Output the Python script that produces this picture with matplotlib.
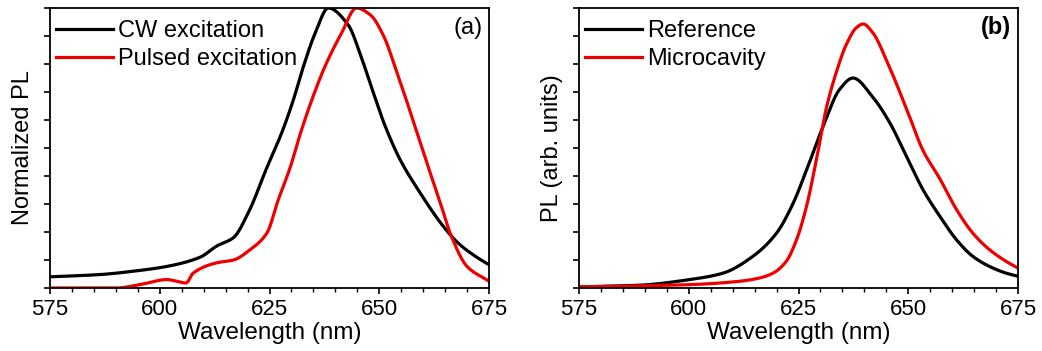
import numpy as np
import matplotlib
matplotlib.use("Agg")
import matplotlib.pyplot as plt
from matplotlib.ticker import MultipleLocator

plt.rcParams['font.family'] = ['Liberation Sans', 'DejaVu Sans']

# panel (a): normalized PL, CW vs pulsed excitation
wl_cw = [575, 586.4, 594, 601.6, 609.2, 613, 616.8, 620.2, 624.4, 627.8, 630.4, 632.7,
         635.4, 638.4, 642.9, 646, 648.6, 651.3, 654.7, 659.3, 664.6, 668, 672.2, 675]
pl_cw = [0.04, 0.048, 0.06, 0.077, 0.11, 0.15, 0.18, 0.27, 0.43, 0.555, 0.67, 0.79,
         0.91, 1.0, 0.94, 0.82, 0.70, 0.58, 0.46, 0.34, 0.22, 0.16, 0.11, 0.083]
wl_pulsed = [575, 590, 595.5, 601.6, 606, 607.6, 613, 616.8, 620.6, 624.4, 627, 629.7,
             632, 634.6, 637.6, 641.4, 644.8, 648, 651, 653.6, 656.2, 658.7, 661,
             663.8, 666.3, 670, 675]
pl_pulsed = [0.0, 0.0, 0.012, 0.03, 0.018, 0.053, 0.09, 0.10, 0.137, 0.196, 0.315, 0.43,
             0.55, 0.67, 0.79, 0.91, 1.0, 0.975, 0.90, 0.79, 0.67, 0.55, 0.44,
             0.31, 0.19, 0.077, 0.024]

# panel (b): reference vs microcavity
wl_ref = [575, 588.8, 600.2, 607.8, 614.6, 620, 623.7, 626.8, 630.6, 634.4, 637.4,
          642, 645.8, 649.6, 653.4, 657.2, 661, 664.7, 668.5, 672.3, 675]
pl_ref = [0.004, 0.01, 0.03, 0.053, 0.113, 0.196, 0.30, 0.42, 0.577, 0.71, 0.75,
          0.68, 0.59, 0.47, 0.35, 0.256, 0.172, 0.113, 0.077, 0.053, 0.042]
wl_mc = [575, 600.2, 611.6, 616.2, 619.2, 622.2, 624.5, 626.8, 629.1, 631.3, 633.6,
         635.9, 638.2, 639.7, 642, 645, 649.6, 653.4, 657.2, 661, 664.7, 668.5, 672.3, 675]
pl_mc = [0.004, 0.012, 0.024, 0.036, 0.053, 0.095, 0.17, 0.29, 0.46, 0.64, 0.77,
         0.87, 0.93, 0.943, 0.91, 0.815, 0.64, 0.49, 0.39, 0.28, 0.196, 0.137, 0.095, 0.071]


def pchip(x, y, n=800):
    # monotone cubic (Fritsch-Carlson) so the curves stay smooth without overshoot
    x = np.asarray(x, float)
    y = np.asarray(y, float)
    h = np.diff(x)
    d = np.diff(y) / h
    m = np.zeros_like(y)
    m[0], m[-1] = d[0], d[-1]
    for i in range(1, len(x) - 1):
        if d[i - 1] * d[i] > 0:
            w1 = 2 * h[i] + h[i - 1]
            w2 = h[i] + 2 * h[i - 1]
            m[i] = (w1 + w2) / (w1 / d[i - 1] + w2 / d[i])
    xs = np.linspace(x[0], x[-1], n)
    idx = np.clip(np.searchsorted(x, xs) - 1, 0, len(x) - 2)
    t = (xs - x[idx]) / h[idx]
    h00 = 2 * t**3 - 3 * t**2 + 1
    h10 = t**3 - 2 * t**2 + t
    h01 = -2 * t**3 + 3 * t**2
    h11 = t**3 - t**2
    ys = h00 * y[idx] + h10 * h[idx] * m[idx] + h01 * y[idx + 1] + h11 * h[idx] * m[idx + 1]
    return xs, ys


fig = plt.figure(figsize=(10.42, 3.51), dpi=100)
ax1 = fig.add_axes([50 / 1042, 1 - 288 / 351, 439 / 1042, 280 / 351])
ax2 = fig.add_axes([579 / 1042, 1 - 288 / 351, 439 / 1042, 280 / 351])

red = '#ee0000'
ax1.plot(*pchip(wl_cw, pl_cw), color='black', lw=2.3, label='CW excitation')
ax1.plot(*pchip(wl_pulsed, pl_pulsed), color=red, lw=2.3, label='Pulsed excitation')
ax2.plot(*pchip(wl_ref, pl_ref), color='black', lw=2.3, label='Reference')
ax2.plot(*pchip(wl_mc, pl_mc), color=red, lw=2.3, label='Microcavity')

for ax in (ax1, ax2):
    ax.set_xlim(575, 675)
    ax.set_ylim(0, 1.0)
    ax.xaxis.set_major_locator(MultipleLocator(25))
    ax.xaxis.set_minor_locator(MultipleLocator(5))
    ax.yaxis.set_major_locator(MultipleLocator(0.1))
    ax.set_yticklabels([])
    ax.tick_params(axis='x', which='major', direction='out', length=4, width=1.2,
                   labelsize=16, pad=4)
    ax.tick_params(axis='x', which='minor', direction='out', length=3, width=1.0)
    ax.tick_params(axis='y', direction='out', length=4, width=1.2)
    for s in ax.spines.values():
        s.set_linewidth(1.3)
    ax.set_xlabel('Wavelength (nm)', fontsize=17.5, labelpad=1)
    ax.legend(loc='upper left', bbox_to_anchor=(0.008, 0.966), frameon=False,
              fontsize=17, handlelength=2.4, handletextpad=0.25, borderaxespad=0.0,
              borderpad=0.1, labelspacing=0.28)

ax1.set_ylabel('Normalized PL', fontsize=17, labelpad=4)
ax2.set_ylabel('PL (arb. units)', fontsize=17, labelpad=4)
ax1.text(0.985, 0.93, '(a)', transform=ax1.transAxes, ha='right', va='center', fontsize=17)
ax2.text(0.985, 0.93, '(b)', transform=ax2.transAxes, ha='right', va='center',
         fontsize=17, fontweight='bold')

fig.savefig('out.png', dpi=100)
